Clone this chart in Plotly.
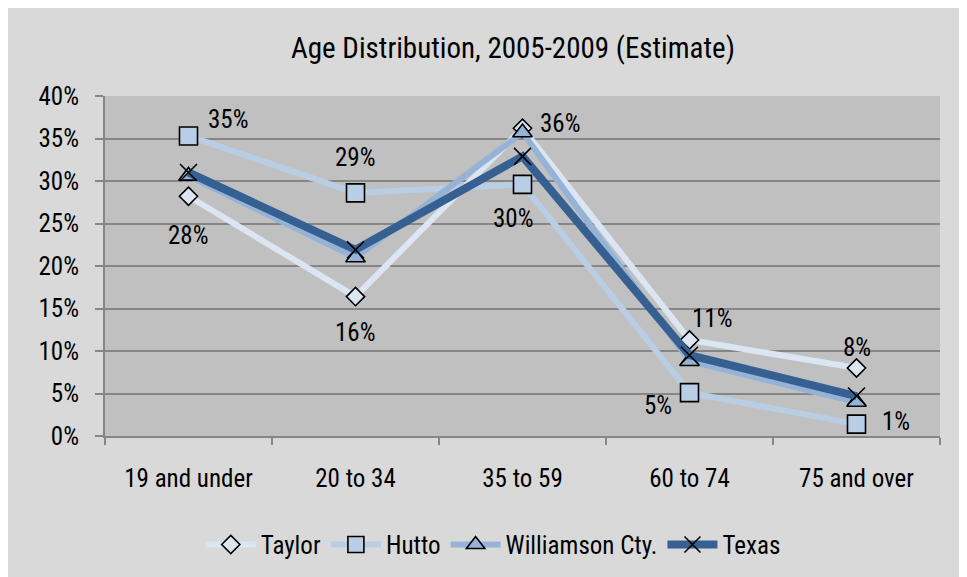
import plotly.graph_objects as go

categories = ["19 and under", "20 to 34", "35 to 59", "60 to 74", "75 and over"]
taylor = [28.2, 16.4, 36.2, 11.3, 8.0]
hutto = [35.3, 28.6, 29.6, 5.1, 1.4]
williamson = [30.6, 21.0, 35.7, 8.8, 4.0]
texas = [31.0, 21.9, 32.9, 9.5, 4.7]
y_ticks = [0, 5, 10, 15, 20, 25, 30, 35, 40]
y_tick_labels = ["0%", "5%", "10%", "15%", "20%", "25%", "30%", "35%", "40%"]

FONT = "Roboto Condensed"

fig = go.Figure()

series = [
    ("Taylor", taylor, "#dce6f2", "diamond", 14, 6),
    ("Hutto", hutto, "#b9cde5", "square", 18, 6),
    ("Williamson Cty.", williamson, "#95b3d7", "triangle-up", 17, 6),
    ("Texas", texas, "#376092", "x-thin", 17, 8),
]

for name, vals, col, sym, msize, lw in series:
    if sym == "x-thin":
        marker = dict(symbol=sym, size=msize, color="#000000",
                      line=dict(color="#000000", width=1.6))
    else:
        marker = dict(symbol=sym, size=msize, color=col,
                      line=dict(color="#000000", width=1.6))
    fig.add_trace(go.Scatter(
        x=categories, y=vals, name=name, mode="lines+markers",
        line=dict(color=col, width=lw), marker=marker,
    ))

# data label offsets (pixels) for Taylor and Hutto
taylor_off = [(0, -39), (0, -36), (38, 5), (23, 21), (0, 21)]
hutto_off = [(40, 16), (0, 35), (-9, -34), (-32, -13), (39, 3)]

annotations = []
for vals, offs in [(taylor, taylor_off), (hutto, hutto_off)]:
    for c, v, (dx, dy) in zip(categories, vals, offs):
        annotations.append(dict(
            x=c, y=v, text=f"{round(v):.0f}%", showarrow=False,
            xshift=dx, yshift=dy,
            font=dict(family=FONT, size=25, color="#000000"),
        ))

fig.update_layout(
    width=967, height=577,
    paper_bgcolor="#d9d9d9",
    plot_bgcolor="#c0c0c0",
    margin=dict(l=97, r=35, t=88, b=149),
    font=dict(family=FONT, color="#000000"),
    title=dict(text="Age Distribution, 2005-2009 (Estimate)",
               x=505 / 967, xanchor="center", y=1 - 40 / 577, yanchor="middle",
               font=dict(family=FONT, size=29, color="#000000")),
    showlegend=True,
    legend=dict(orientation="h", x=0.465, xanchor="center",
                y=-0.32, yanchor="middle",
                font=dict(family=FONT, size=25, color="#000000"),
                bgcolor="rgba(0,0,0,0)", itemwidth=50),
    annotations=annotations,
)

fig.update_xaxes(
    type="category", range=[-0.5, 4.5],
    showgrid=False, showline=True, linecolor="#868686", linewidth=2,
    ticks="outside", tickson="boundaries", ticklen=7, tickcolor="#868686",
    tickwidth=2, tickfont=dict(family=FONT, size=25, color="#000000"),
    ticklabelstandoff=19,
)
fig.update_yaxes(
    range=[0, 40], tickvals=y_ticks, ticktext=y_tick_labels,
    showgrid=True, gridcolor="#868686", gridwidth=2,
    showline=True, linecolor="#868686", linewidth=2,
    ticks="outside", ticklen=8, tickcolor="#868686", tickwidth=2,
    tickfont=dict(family=FONT, size=25, color="#000000"),
    zeroline=False, ticklabelstandoff=11,
)

fig.write_html("out.html")
